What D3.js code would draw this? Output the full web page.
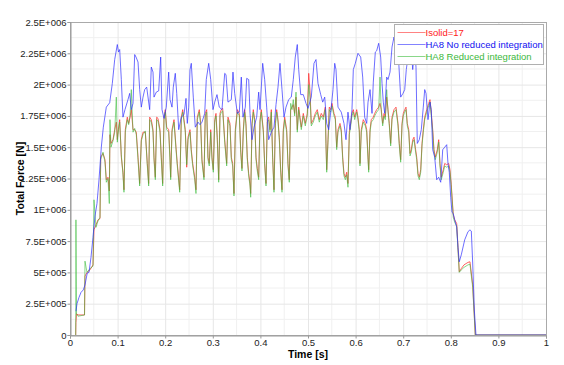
<!DOCTYPE html>
<html>
<head>
<meta charset="utf-8">
<script src="https://cdn.jsdelivr.net/npm/d3@7"></script>
<style>
  body { margin: 0; background: #fff; }
  .svg-frame { width: 564px; height: 365px; }
  text { font-family: "Liberation Sans", Arial, sans-serif; }
</style>
</head>
<body>
<div class="svg-frame"></div>
<script>
// force values are in MN (x 1e6 N)
const seriesNames = ["Isolid=17", "HA8 No reduced integration", "HA8 Reduced integration"]

// time base shared by Isolid=17 and HA8 Reduced integration
const rgTime = [
  0.0120,0.0125,0.0137,0.0168,0.0305,0.0315,0.0357,0.0420,0.0483,0.0504,0.0546,
  0.0588,0.0630,0.0645,0.0693,0.0735,0.0763,0.0798,0.0826,0.0840,0.0861,
  0.0903,0.0939,0.0973,0.0994,0.1008,0.1044,0.1078,0.1113,0.1134,0.1162,
  0.1204,0.1233,0.1261,0.1288,0.1324,0.1359,0.1393,0.1429,0.1464,0.1498,
  0.1534,0.1582,0.1624,0.1653,0.1674,0.1708,0.1744,0.1765,0.1792,0.1821,
  0.1849,0.1891,0.1918,0.1947,0.1975,0.2002,0.2031,0.2073,0.2101,0.2115,
  0.2143,0.2185,0.2227,0.2254,0.2305,0.2338,0.2368,0.2395,0.2422,0.2452,
  0.2479,0.2521,0.2548,0.2578,0.2620,0.2647,0.2674,0.2716,0.2746,0.2773,
  0.2815,0.2842,0.2872,0.2899,0.2926,0.2956,0.2983,0.3011,0.3040,0.3067,
  0.3094,0.3124,0.3151,0.3178,0.3208,0.3250,0.3292,0.3319,0.3361,0.3389,
  0.3418,0.3445,0.3473,0.3515,0.3557,0.3586,0.3613,0.3641,0.3670,0.3697,
  0.3725,0.3754,0.3782,0.3796,0.3824,0.3851,0.3880,0.3908,0.3935,0.3964,
  0.3992,0.4019,0.4061,0.4090,0.4118,0.4145,0.4174,0.4202,0.4229,0.4258,
  0.4286,0.4313,0.4342,0.4370,0.4397,0.4426,0.4454,0.4481,0.4510,0.4552,
  0.4580,0.4607,0.4636,0.4664,0.4691,0.4720,0.4748,0.4775,0.4805,0.4832,
  0.4859,0.4901,0.4943,0.4985,0.5015,0.5042,0.5069,0.5111,0.5153,0.5195,
  0.5237,0.5279,0.5321,0.5363,0.5378,0.5393,0.5420,0.5447,0.5477,0.5504,
  0.5546,0.5574,0.5603,0.5630,0.5672,0.5699,0.5729,0.5756,0.5784,0.5813,
  0.5840,0.5868,0.5897,0.5924,0.5952,0.5981,0.6023,0.6050,0.6078,0.6092,
  0.6120,0.6162,0.6204,0.6233,0.6261,0.6275,0.6303,0.6330,0.6372,0.6401,
  0.6443,0.6485,0.6513,0.6540,0.6569,0.6597,0.6624,0.6653,0.6681,0.6708,
  0.6737,0.6765,0.6807,0.6849,0.6891,0.6918,0.6947,0.6975,0.7002,0.7032,
  0.7059,0.7086,0.7116,0.7143,0.7170,0.7200,0.7227,0.7254,0.7284,0.7311,
  0.7338,0.7368,0.7395,0.7422,0.7452,0.7494,0.7536,0.7563,0.7590,0.7620,
  0.7647,0.7674,0.7716,0.7746,0.7773,0.7800,0.7842,0.7872,0.7914,0.7956,
  0.7983,0.8010,0.8052,0.8082,0.8124,0.8151,0.8178,0.8220,0.8277,0.8361,
  0.8403,0.8460,0.8515,1.0
]

const isolidForce = [
  0,0.10,0.17,0.16,0.16,0.47,0.50,0.52,0.56,0.84,0.88,
  0.92,0.93,1.42,1.45,1.40,1.24,1.26,1.15,1.60,1.53,
  1.56,1.64,1.70,1.56,1.62,1.72,1.42,1.30,1.16,1.64,
  1.74,1.69,1.74,1.80,1.64,1.64,1.62,1.42,1.21,1.56,
  1.62,1.62,1.37,1.21,1.74,1.72,1.64,1.42,1.26,1.74,
  1.73,1.64,1.42,1.21,1.74,1.80,1.66,1.64,1.42,1.26,
  1.64,1.72,1.50,1.37,1.16,1.74,1.80,1.72,1.64,1.34,
  1.58,1.64,1.48,1.37,1.26,1.16,1.74,1.80,1.69,1.40,
  1.26,1.77,1.80,1.42,1.37,1.64,1.42,1.32,1.72,1.77,
  1.58,1.24,1.77,1.80,1.81,1.56,1.37,1.74,1.69,1.42,
  1.37,1.13,1.64,1.80,1.77,1.48,1.33,1.64,1.80,1.69,
  1.42,1.29,1.21,1.13,1.69,1.80,1.72,1.42,1.33,1.26,
  1.72,1.80,1.64,1.37,1.21,1.72,1.74,1.64,1.80,1.42,
  1.16,1.69,1.80,1.72,1.58,1.32,1.16,1.64,1.74,1.64,
  1.37,1.24,1.80,1.82,1.84,1.77,1.90,1.64,1.82,1.74,
  1.66,1.77,1.69,1.77,2.09,1.95,1.69,1.72,1.77,1.80,
  1.72,1.77,1.74,1.82,1.53,1.32,1.56,1.82,1.80,1.85,
  1.77,1.74,1.50,1.64,1.69,1.64,1.42,1.29,1.26,1.30,
  1.21,1.62,1.69,1.77,1.80,1.74,1.80,1.74,1.64,1.37,
  1.64,1.72,1.69,1.64,1.42,1.32,1.64,1.72,1.74,1.77,
  1.80,1.82,1.85,1.80,1.69,1.77,1.74,1.90,1.80,1.69,
  1.53,1.74,1.80,1.82,1.69,1.53,1.40,1.69,1.77,1.80,
  1.82,1.69,1.64,1.45,1.48,1.56,1.58,1.50,1.42,1.29,
  1.26,1.32,1.53,1.64,1.74,1.80,1.85,1.88,1.77,1.64,
  1.48,1.42,1.48,1.56,1.37,1.26,1.32,1.37,1.36,1.37,
  1.32,1.20,0.96,0.92,0.89,0.70,0.505,0.53,0.56,0.58,
  0.585,0.40,0,0
]

const reducedForce = [
  0,0.92,0.17,0.15,0.16,0.59,0.50,0.53,0.55,1.08,0.86,
  0.91,0.94,1.40,1.46,1.38,1.22,1.25,1.05,1.72,1.50,
  1.55,1.62,1.90,1.54,1.60,1.70,1.44,1.28,1.14,1.62,
  1.72,1.68,1.75,1.96,1.62,1.65,1.60,1.40,1.19,1.55,
  1.60,1.63,1.35,1.19,1.72,1.70,1.62,1.40,1.24,1.72,
  1.71,1.62,1.40,1.19,1.72,1.78,1.64,1.62,1.38,1.24,
  1.62,1.70,1.48,1.35,1.14,1.72,1.78,1.70,1.62,1.36,
  1.56,1.62,1.46,1.35,1.24,1.13,1.72,1.78,1.67,1.38,
  1.24,1.75,1.78,1.40,1.35,1.62,1.40,1.30,1.70,1.75,
  1.56,1.22,1.75,1.78,1.79,1.54,1.35,1.72,1.67,1.40,
  1.35,1.11,1.62,1.78,1.75,1.46,1.31,1.62,1.78,1.67,
  1.40,1.27,1.19,1.10,1.67,1.78,1.70,1.40,1.31,1.24,
  1.70,1.78,1.62,1.35,1.19,1.70,1.72,1.62,1.78,1.40,
  1.14,1.67,1.78,1.70,1.56,1.30,1.14,1.62,1.72,1.62,
  1.35,1.22,1.85,1.80,1.88,1.75,1.94,1.62,1.80,1.72,
  1.64,1.75,1.67,1.75,2.00,1.90,1.67,1.70,1.75,1.78,
  1.70,1.75,1.72,1.80,1.51,1.30,1.54,1.80,1.78,1.83,
  1.75,1.72,1.48,1.62,1.67,1.62,1.40,1.27,1.24,1.28,
  1.18,1.60,1.67,1.75,1.78,1.72,1.78,1.72,1.62,1.35,
  1.62,1.70,1.67,1.62,1.40,1.30,1.62,1.70,1.72,1.75,
  1.78,1.80,2.06,1.78,1.67,1.75,1.72,1.96,1.78,1.67,
  1.51,1.72,1.78,1.80,1.67,1.51,1.38,1.67,1.75,1.78,
  1.80,1.67,1.62,1.43,1.46,1.54,1.56,1.48,1.40,1.27,
  1.24,1.30,1.51,1.62,1.72,1.78,1.83,1.86,1.75,1.62,
  1.46,1.40,1.46,1.54,1.35,1.24,1.30,1.35,1.34,1.35,
  1.30,1.18,0.94,0.90,0.87,0.68,0.50,0.52,0.54,0.56,
  0.565,0.38,0,0
]

const noReducedTime = [
  0.0126,0.0147,0.0189,0.0231,0.0279,0.0315,0.0363,0.0399,0.0441,0.0483,
  0.0525,0.0567,0.0609,0.0658,0.0700,0.0763,0.0834,0.0889,0.0939,0.0994,
  0.1019,0.1044,0.1078,0.1113,0.1155,0.1218,0.1254,0.1288,0.1324,0.1359,
  0.1387,0.1429,0.1464,0.1498,0.1534,0.1569,0.1611,0.1674,0.1708,0.1744,
  0.1765,0.1813,0.1863,0.1905,0.1933,0.1975,0.2023,0.2073,0.2101,0.2143,
  0.2170,0.2212,0.2242,0.2284,0.2338,0.2395,0.2437,0.2464,0.2494,0.2521,
  0.2548,0.2590,0.2632,0.2689,0.2731,0.2773,0.2830,0.2863,0.2914,0.2956,
  0.3004,0.3040,0.3088,0.3136,0.3193,0.3250,0.3277,0.3319,0.3389,0.3424,
  0.3460,0.3515,0.3557,0.3599,0.3634,0.3683,0.3712,0.3754,0.3782,0.3824,
  0.3866,0.3922,0.3964,0.3992,0.4048,0.4090,0.4132,0.4174,0.4229,0.4286,
  0.4328,0.4370,0.4412,0.4454,0.4496,0.4538,0.4594,0.4649,0.4691,0.4733,
  0.4775,0.4805,0.4847,0.4901,0.4958,0.5000,0.5069,0.5126,0.5168,0.5210,
  0.5267,0.5309,0.5351,0.5393,0.5435,0.5489,0.5525,0.5561,0.5588,0.5630,
  0.5699,0.5756,0.5798,0.5840,0.5882,0.5924,0.5952,0.5994,0.6050,0.6107,
  0.6149,0.6191,0.6233,0.6261,0.6303,0.6345,0.6372,0.6414,0.6443,0.6485,
  0.6527,0.6555,0.6582,0.6611,0.6653,0.6681,0.6723,0.6765,0.6807,0.6849,
  0.6891,0.6947,0.6996,0.7032,0.7065,0.7101,0.7157,0.7200,0.7241,0.7269,
  0.7296,0.7338,0.7380,0.7422,0.7452,0.7479,0.7521,0.7563,0.7590,0.7620,
  0.7662,0.7704,0.7746,0.7788,0.7830,0.7872,0.7914,0.7941,0.7968,0.7998,
  0.8025,0.8052,0.8082,0.8124,0.8151,0.8178,0.8220,0.8292,0.8361,0.8403,
  0.8431,0.8460,0.8494,0.8529,1.0
]

const noReducedForce = [
  0.19,0.25,0.30,0.34,0.36,0.40,0.495,0.50,0.62,0.78,
  0.95,1.05,1.24,1.50,1.66,1.82,1.855,2.01,2.20,2.32,
  2.26,2.28,2.04,1.74,1.80,1.88,1.93,1.80,1.85,2.24,
  2.22,2.18,1.96,1.82,1.90,1.96,1.98,1.80,2.14,2.10,
  1.90,1.94,1.95,2.22,1.80,1.73,1.82,2.10,1.88,1.82,
  1.98,2.09,1.93,1.64,1.74,1.76,1.89,1.69,1.82,2.12,
  2.17,1.90,1.66,1.70,1.68,1.70,1.77,2.04,2.17,2.04,
  1.80,1.86,1.92,1.82,1.80,2.09,2.08,1.86,1.88,2.10,
  1.93,1.77,1.78,2.06,1.74,1.82,2.05,2.04,1.77,1.56,
  1.66,1.74,1.94,1.80,2.17,2.04,1.82,1.56,1.62,1.66,
  1.84,1.98,2.17,1.96,1.74,1.82,1.88,1.90,2.04,2.22,
  2.32,2.12,1.92,1.92,1.85,1.81,1.90,2.17,2.20,2.01,
  1.92,1.86,1.90,1.69,1.64,1.82,1.96,2.17,2.12,1.82,
  1.78,1.69,1.56,1.78,1.64,1.80,2.12,2.17,2.25,2.22,
  2.06,1.74,1.69,1.86,1.96,1.77,2.02,2.26,2.27,2.33,
  2.22,2.01,1.86,1.77,2.06,2.04,2.10,2.30,2.38,2.25,
  2.28,1.90,1.93,1.96,2.12,2.22,2.33,2.12,2.28,2.14,
  1.53,1.56,1.64,1.82,1.96,1.93,1.72,1.86,1.80,1.48,
  1.42,1.24,1.26,1.22,1.48,1.50,1.52,1.37,1.30,1.10,
  0.98,0.97,0.92,0.86,0.70,0.585,0.64,0.76,0.825,0.84,
  0.83,0.575,0.20,0,0
]

const xTicks = [0, 0.1, 0.2, 0.3, 0.4, 0.5, 0.6, 0.7, 0.8, 0.9, 1]
const yTicks = [0, 2.5e5, 5e5, 7.5e5, 1e6, 1.25e6, 1.5e6, 1.75e6, 2e6, 2.25e6, 2.5e6]

function drawViz() {
  const frameClass = ".svg-frame"
  const width = 564
  const height = 365
  const svg = d3.select(frameClass)
    .append("svg")
    .attr("width", width)
    .attr("height", height)

  const margin = { top: 22, right: 18, bottom: 30, left: 70 }
  const xScale = d3.scaleLinear([0, 1], [margin.left, width - margin.right])
  const yScale = d3.scaleLinear([0, 2.5e6], [height - margin.bottom, margin.top])

  // exponent style labels like 2.25E+006
  const fmtExp = v => {
    if (v === 0) return "0"
    const e = Math.floor(Math.log10(v))
    const m = +(v / Math.pow(10, e)).toFixed(3)
    return `${m}E+${String(e).padStart(3, "0")}`
  }

  //grid, minor lines at half steps
  const grid = svg.append("g").attr("class", "grid")
  grid.selectAll("line.vminor")
    .data(d3.range(0.05, 1, 0.1))
    .join("line")
      .attr("x1", d => xScale(d)).attr("x2", d => xScale(d))
      .attr("y1", yScale(0)).attr("y2", yScale(2.5e6))
      .attr("stroke", "#f0f0f0")
  grid.selectAll("line.hminor")
    .data(d3.range(1.25e5, 2.5e6, 2.5e5))
    .join("line")
      .attr("x1", xScale(0)).attr("x2", xScale(1))
      .attr("y1", d => yScale(d)).attr("y2", d => yScale(d))
      .attr("stroke", "#f0f0f0")

  svg.append("g")
    .attr("transform", `translate(0,${yScale(0)})`)
    .call(d3.axisBottom(xScale).tickValues(xTicks).tickSize(-(yScale(0) - yScale(2.5e6))).tickFormat(""))
    .call(g => g.select(".domain").remove())
    .call(g => g.selectAll(".tick line").attr("stroke", "#e6e6e6"))
  svg.append("g")
    .attr("transform", `translate(${xScale(0)},0)`)
    .call(d3.axisLeft(yScale).tickValues(yTicks).tickSize(-(xScale(1) - xScale(0))).tickFormat(""))
    .call(g => g.select(".domain").remove())
    .call(g => g.selectAll(".tick line").attr("stroke", "#e6e6e6"))

  //series
  svg.append("clipPath").attr("id", "plot-clip")
    .append("rect")
      .attr("x", xScale(0)).attr("y", yScale(2.5e6))
      .attr("width", xScale(1) - xScale(0)).attr("height", yScale(0) - yScale(2.5e6))

  const line = d3.line()
    .x(d => xScale(d[0]))
    .y(d => yScale(d[1] * 1e6))

  const series = [
    { name: seriesNames[0], data: d3.zip(rgTime, isolidForce), color: "#ff3030", opacity: 0.75, text: "#ff1a1a" },
    { name: seriesNames[2], data: d3.zip(rgTime, reducedForce), color: "#3cbc3c", opacity: 0.6, text: "#3cb83c" },
    { name: seriesNames[1], data: d3.zip(noReducedTime, noReducedForce), color: "#3030ff", opacity: 0.7, text: "#1010f0" }
  ]

  svg.append("g")
    .attr("clip-path", "url(#plot-clip)")
    .selectAll("path.series")
    .data(series)
    .join("path")
      .attr("class", "series")
      .attr("fill", "none")
      .attr("stroke", d => d.color)
      .attr("stroke-opacity", d => d.opacity)
      .attr("stroke-width", 1)
      .attr("d", d => line(d.data))

  //frame and axes
  svg.append("rect")
    .attr("x", xScale(0) + 0.5).attr("y", yScale(2.5e6) + 0.5)
    .attr("width", xScale(1) - xScale(0)).attr("height", yScale(0) - yScale(2.5e6))
    .attr("fill", "none")
    .attr("stroke", "#aaaaaa")

  const xAxis = svg.append("g")
    .attr("transform", `translate(0,${yScale(0) + 0.5})`)
    .call(d3.axisBottom(xScale).tickValues(xTicks).tickSize(3).tickFormat(d3.format("")))
  const yAxis = svg.append("g")
    .attr("transform", `translate(${xScale(0) + 0.5},0)`)
    .call(d3.axisLeft(yScale).tickValues(yTicks).tickSize(3).tickFormat(fmtExp))
  for (const ax of [xAxis, yAxis]) {
    ax.select(".domain").attr("stroke", "#999")
    ax.selectAll(".tick line").attr("stroke", "#999")
    ax.selectAll(".tick text")
      .attr("fill", "#222")
      .style("font-family", "'Liberation Sans', Arial, sans-serif")
      .style("font-size", "9.5px")
  }
  xAxis.selectAll(".tick text").attr("y", 4)
  yAxis.selectAll(".tick text").attr("x", -4)

  //titles
  svg.append("text")
    .attr("x", (xScale(0) + xScale(1)) / 2)
    .attr("y", 358)
    .attr("text-anchor", "middle")
    .style("font-size", "10.5px")
    .style("font-weight", "bold")
    .text("Time [s]")
  svg.append("text")
    .attr("transform", `translate(24,${(yScale(0) + yScale(2.5e6)) / 2}) rotate(-90)`)
    .attr("text-anchor", "middle")
    .style("font-size", "10.5px")
    .style("font-weight", "bold")
    .text("Total Force [N]")

  //legend
  const legendOrder = [series[0], series[2], series[1]]
  const legend = svg.append("g").attr("transform", "translate(394.5,24.5)")
  legend.append("rect")
    .attr("width", 149).attr("height", 40)
    .attr("fill", "#fff")
    .attr("stroke", "#b0b0b0")
  const rows = legend.selectAll("g.row")
    .data(legendOrder)
    .join("g")
      .attr("class", "row")
      .attr("transform", (d, i) => `translate(0,${8 + i * 12})`)
  rows.append("line")
    .attr("x1", 3).attr("x2", 31)
    .attr("stroke", d => d.color)
    .attr("stroke-opacity", 0.6)
  rows.append("text")
    .attr("x", 31).attr("dy", "0.35em")
    .attr("fill", d => d.text)
    .style("font-size", "9.5px")
    .text(d => d.name)
}

drawViz()
</script>
</body>
</html>
